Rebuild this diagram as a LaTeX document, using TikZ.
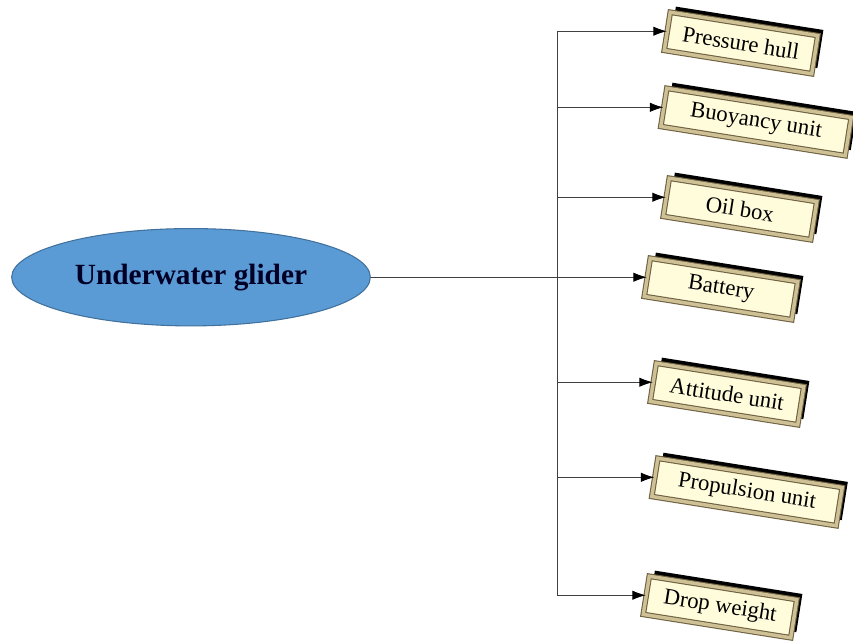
\documentclass[tikz,border=0pt]{standalone}
\usepackage{fontspec}
\setmainfont{Liberation Serif}
\usetikzlibrary{arrows.meta, positioning, shadows, shapes.geometric}
\definecolor{gliderblue}{HTML}{5B9BD5}
\definecolor{gliderrim}{HTML}{41719C}
\definecolor{boxcream}{HTML}{FFFCDC}
\definecolor{boxrim}{HTML}{6E6040}
\definecolor{boxbevel}{HTML}{CFC196}
\tikzset{
  link/.style = {draw=black!75, line width=0.6pt},
  feed/.style = {link, -{Latex[length=10pt, width=7pt, black]}},
  hub/.style = {ellipse, fill=gliderblue, draw=gliderrim, line width=0.8pt,
    minimum width=269pt, minimum height=73pt, text=black!85!blue,
    font=\fontsize{22}{26}\selectfont\bfseries},
  part/.style = {rectangle, fill=boxcream, draw=boxrim, line width=0.8pt,
    double=boxbevel, double distance=2.6pt, minimum width=112pt,
    minimum height=29pt, rotate=-9, font=\fontsize{17}{20}\selectfont,
    general shadow={fill=black, shadow xshift=4.2pt, shadow yshift=4.2pt}},
  widepart/.style = {part, minimum width=140pt}
}

\begin{document}
\begin{tikzpicture}[x=0.75pt, y=-0.75pt]
\useasboundingbox (0,0) rectangle (853,641);
% parts of the glider
\node [part] (hull) at (741,43) {Pressure hull};
\node [widepart] (buoy) at (756,122) {Buoyancy unit};
\node [part] (oil) at (740,209) {Oil box};
\node [part] (bat) at (721,289) {Battery};
\node [part] (att) at (727,394) {Attitude unit};
\node [widepart] (prop) at (747,492) {Propulsion unit};
\node [part] (drop) at (720,607) {Drop weight};
% the glider itself
\node [hub] (ug) at (191,0 |- bat.west) {Underwater glider};
\coordinate (trunk) at (557,0);

\draw [feed] (ug.east) -- (bat.west);
\draw [link] (trunk |- hull.west) -- (trunk |- drop.west);
\foreach \comp in {hull, buoy, oil, att, prop, drop}
  \draw [feed] (trunk |- \comp.west) -- (\comp.west);
\end{tikzpicture}
\end{document}
